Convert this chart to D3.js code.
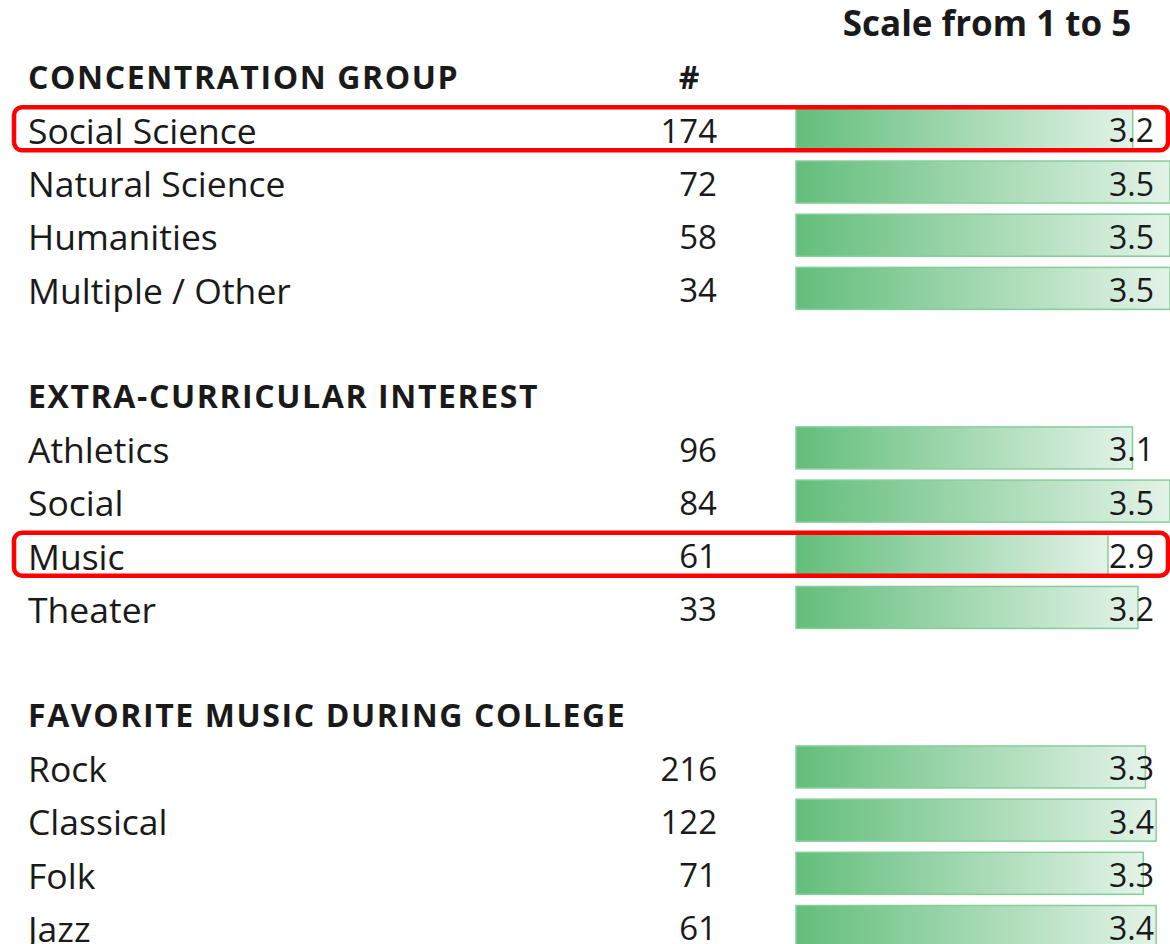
<!DOCTYPE html>
<html>
<head>
<meta charset="utf-8">
<script src="https://cdn.jsdelivr.net/npm/d3@7"></script>
<style>
  html, body { margin: 0; padding: 0; background: #fff; }
  svg { display: block; font-family: "Open Sans", "Noto Sans", sans-serif; }
</style>
</head>
<body>
<div id="app"></div>
<script>
// section titles
const sectionTitles = ["CONCENTRATION GROUP", "EXTRA-CURRICULAR INTEREST", "FAVORITE MUSIC DURING COLLEGE"];

// concentration group
const concentrationNames = ["Social Science", "Natural Science", "Humanities", "Multiple / Other"];
const concentrationCounts = [174, 72, 58, 34];
const concentrationScores = [3.151, 3.5, 3.5, 3.5];

// extra-curricular
const extraNames = ["Athletics", "Social", "Music", "Theater"];
const extraCounts = [96, 84, 61, 33];
const extraScores = [3.149, 3.5, 2.92, 3.2];

// favorite music
const musicNames = ["Rock", "Classical", "Folk", "Jazz"];
const musicCounts = [216, 122, 71, 61];
const musicScores = [3.27, 3.37, 3.25, 3.37];

const highlighted = ["Social Science", "Music"];

const svgWidth = 1170, svgHeight = 944;

const groups = [
    {title: sectionTitles[0], names: concentrationNames, counts: concentrationCounts, scores: concentrationScores},
    {title: sectionTitles[1], names: extraNames, counts: extraCounts, scores: extraScores},
    {title: sectionTitles[2], names: musicNames, counts: musicCounts, scores: musicScores}
];

// flatten into grid rows: 0 = title, then header + 4 rows + blank per group
let headers = [], rows = [];
groups.forEach((g, gi) => {
    let base = 1 + gi * 6;
    headers.push({text: g.title, row: base});
    g.names.forEach((n, i) => {
        rows.push({name: n, count: g.counts[i], score: g.scores[i], row: base + 1 + i});
    });
});

let y = d3.scaleLinear().domain([0, 17]).range([22.5, 926.5]);
let x = d3.scaleLinear().domain([0, 3.5]).range([796, 1170]);

let svg = d3.select('#app').append('svg')
    .attr('width', svgWidth)
    .attr('height', svgHeight);

let grad = svg.append('defs').append('linearGradient')
    .attr('id', 'barGrad')
    .attr('x1', '0%').attr('x2', '100%')
    .attr('y1', '0%').attr('y2', '0%');
grad.append('stop').attr('offset', '0%').attr('stop-color', '#63BE7B');
grad.append('stop').attr('offset', '100%').attr('stop-color', '#E3F3E8');

const ink = '#1a1a1a';

        //title over the bar column
svg.append('text')
    .attr('x', 987)
    .attr('y', y(0) + 1)
    .attr('dy', '0.36em')
    .attr('text-anchor', 'middle')
    .attr('font-weight', 'bold')
    .attr('font-size', 35)
    .attr('fill', ink)
    .text('Scale from 1 to 5');

        //# column header
svg.append('text')
    .attr('x', 689)
    .attr('y', y(1) + 2)
    .attr('dy', '0.36em')
    .attr('text-anchor', 'middle')
    .attr('font-weight', 'bold')
    .attr('font-size', 32)
    .attr('fill', ink)
    .text('#');

svg.append('g')
    .selectAll('text')
    .data(headers)
    .enter().append('text')
        .attr('x', 28)
        .attr('y', d => y(d.row) + 2)
        .attr('dy', '0.36em')
        .attr('font-weight', 'bold')
        .attr('font-size', 32)
        .attr('letter-spacing', 1.6)
        .attr('fill', ink)
        .text(d => d.text);

let row = svg.append('g')
    .selectAll('g')
    .data(rows)
    .enter().append('g');

row.append('rect')
    .attr('x', x(0))
    .attr('y', d => y(d.row) - 21)
    .attr('width', d => x(d.score) - x(0))
    .attr('height', 42)
    .attr('fill', 'url(#barGrad)')
    .attr('stroke', '#86CE99')
    .attr('stroke-width', 1.5);

row.append('text')
    .attr('x', 28)
    .attr('y', d => y(d.row) + 2.5)
    .attr('dy', '0.36em')
    .attr('font-size', 35.5)
    .attr('fill', ink)
    .text(d => d.name);

row.append('text')
    .attr('x', 717)
    .attr('y', d => y(d.row) + 2)
    .attr('dy', '0.36em')
    .attr('text-anchor', 'end')
    .attr('font-size', 33)
    .attr('fill', ink)
    .text(d => d.count);

row.append('text')
    .attr('x', 1154)
    .attr('y', d => y(d.row) + 2)
    .attr('dy', '0.36em')
    .attr('text-anchor', 'end')
    .attr('font-size', 32)
    .attr('fill', ink)
    .text(d => d3.format('.1f')(d.score));

        //red outline round highlighted rows
svg.append('g')
    .selectAll('rect')
    .data(rows.filter(d => highlighted.includes(d.name)))
    .enter().append('rect')
        .attr('x', 14)
        .attr('y', d => y(d.row) - 21.5)
        .attr('width', 1154)
        .attr('height', 43)
        .attr('rx', 8)
        .attr('fill', 'none')
        .attr('stroke', '#FF0000')
        .attr('stroke-width', 4.5);
</script>
</body>
</html>
